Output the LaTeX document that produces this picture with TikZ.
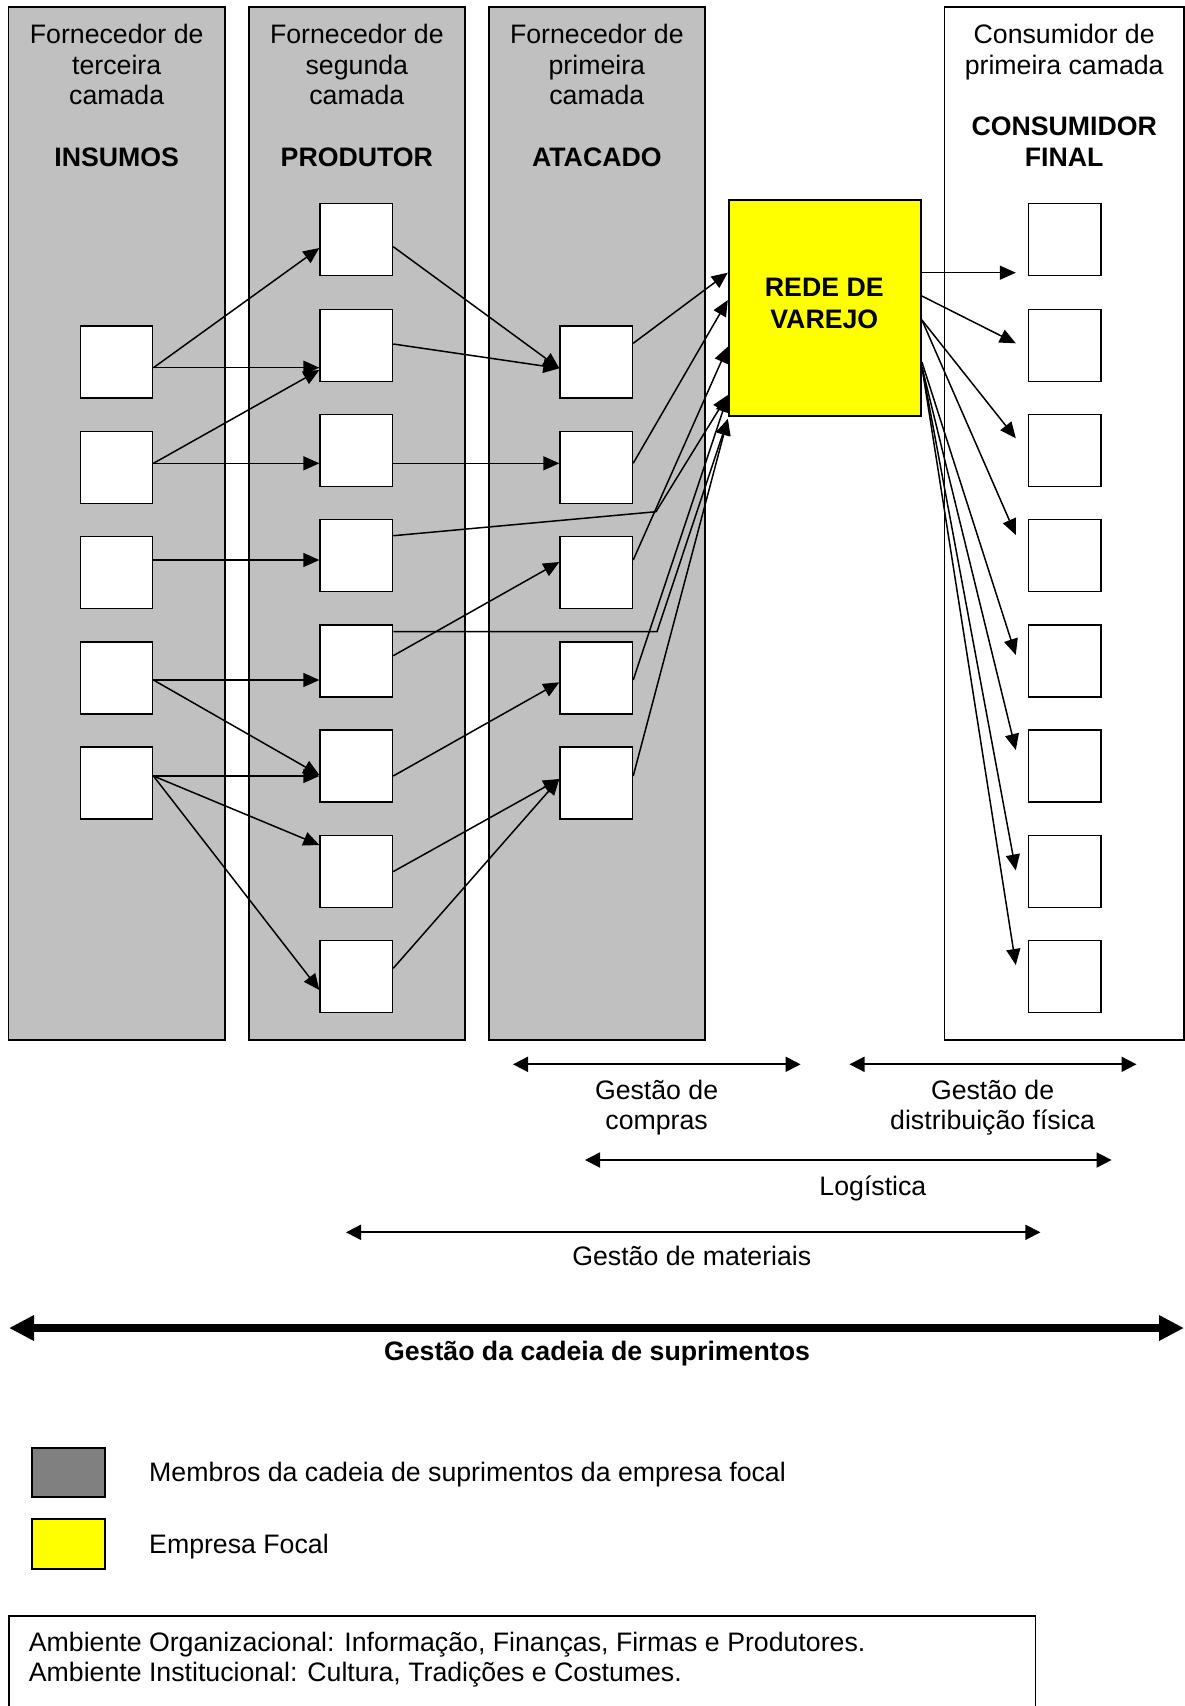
\documentclass[tikz,border=0pt]{standalone}
\usepackage{fontspec}
\setmainfont{Liberation Sans}
\usetikzlibrary{arrows.meta,calc}
\definecolor{colgray}{HTML}{C0C0C0}
\definecolor{leggray}{HTML}{808080}
\definecolor{focal}{HTML}{FFFF00}
\begin{document}
\begin{tikzpicture}[x=1pt,y=-1pt,
  font=\fontsize{26.7}{31}\selectfont,
  bfont/.style={font=\fontsize{26.7}{31}\selectfont\bfseries},
  col/.style={draw, line width=1.8pt, fill=colgray, inner sep=0},
  bx/.style={draw, line width=1.4pt, fill=white, minimum width=72.5pt, minimum height=72pt, inner sep=0},
  txt/.style={inner sep=0, anchor=base},
  txtl/.style={inner sep=0, anchor=base west},
  con/.style={line width=1.5pt, -{Triangle[length=16pt,width=14pt]}},
  dbl/.style={line width=1.8pt, {Triangle[length=15pt,width=15pt]}-{Triangle[length=15pt,width=15pt]}},
  big/.style={line width=8pt, {Triangle[length=25pt,width=24pt]}-{Triangle[length=25pt,width=24pt]}}]
\useasboundingbox (0,0) rectangle (1185,1706);

% columns
\node[col, minimum width=216.6pt, minimum height=1032.7pt] (col1) at (116.7,523.65) {};
\node[col, minimum width=216.3pt, minimum height=1032.7pt] (col2) at (356.85,523.65) {};
\node[col, minimum width=216.3pt, minimum height=1032.7pt] (col3) at (596.85,523.65) {};
\node[col, fill=white, minimum width=239.6pt, minimum height=1032.7pt] (col4) at (1064.2,523.65) {};

% headers
\node[txt] (h1a) at (116.7,43.3) {Fornecedor de};
\node[txt] (h1b) at (116.7,74) {terceira};
\node[txt] (h1c) at (116.7,104.8) {camada};
\node[txt,bfont] (h1d) at (116.7,166) {INSUMOS};
\node[txt] (h2a) at (356.85,43.3) {Fornecedor de};
\node[txt] (h2b) at (356.85,74) {segunda};
\node[txt] (h2c) at (356.85,104.8) {camada};
\node[txt,bfont] (h2d) at (356.85,166) {PRODUTOR};
\node[txt] (h3a) at (596.85,43.3) {Fornecedor de};
\node[txt] (h3b) at (596.85,74) {primeira};
\node[txt] (h3c) at (596.85,104.8) {camada};
\node[txt,bfont] (h3d) at (596.85,166) {ATACADO};
\node[txt] (h4a) at (1064.2,43.3) {Consumidor de};
\node[txt] (h4b) at (1064.2,74) {primeira camada};
\node[txt,bfont] (h4c) at (1064.2,135.5) {CONSUMIDOR};
\node[txt,bfont] (h4d) at (1064.2,166) {FINAL};

% focal company
\node[draw, line width=1.8pt, fill=focal, minimum width=192.3pt, minimum height=215.7pt, inner sep=0] (rede) at (824.85,307.85) {};
\node[txt,bfont] (r1) at (824.3,296.7) {REDE DE};
\node[txt,bfont] (r2) at (824.3,328.3) {VAREJO};

% boxes
\foreach \i/\y in {1/362,2/467.3,3/572.5,4/677.8,5/783}{
  \node[bx] (a\i) at (116.5,\y) {};
  \node[bx] (c\i) at (596.25,\y) {};
}
\foreach \i/\y in {1/239.3,2/345.3,3/450.3,4/555.7,5/661,6/766,7/871.5,8/976.7}{
  \node[bx] (b\i) at (356.3,\y) {};
  \node[bx] (d\i) at (1064.75,\y) {};
}

% bends
\coordinate (k4) at (656,511.7);
\coordinate (k5) at (657,631.7);

% tier 3 -> tier 2
\draw[con] (a1.east |- 0,367.7) -- (b1.west |- 0,248);
\draw[con] (a1.east |- 0,367.7) -- (b2.west |- 0,367.7);
\draw[con] (a2.east |- 0,463.3) -- (b2.west |- 0,370);
\draw[con] (a2.east |- 0,463.3) -- (b3.west |- 0,463.3);
\draw[con] (a3.east |- 0,560) -- (b4.west |- 0,560);
\draw[con] (a4.east |- 0,680) -- (b5.west |- 0,680);
\draw[con] (a4.east |- 0,680) -- (b6.west |- 0,775);
\draw[con] (a5.east |- 0,776) -- (b6.west |- 0,776);
\draw[con] (a5.east |- 0,776) -- (b7.west |- 0,845);
\draw[con] (a5.east |- 0,776) -- (b8.west |- 0,990);

% tier 2 -> tier 1 / rede
\draw[con] (b1.east |- 0,246.7) -- (c1.west |- 0,368.3);
\draw[con] (b2.east |- 0,344) -- (c1.west |- 0,368.3);
\draw[con] (b3.east |- 0,463.3) -- (c2.west |- 0,463.3);
\draw[con] (b4.east |- 0,535.7) -- (k4) -- (rede.west |- 0,395);
\draw[con] (b5.east |- 0,631.7) -- (k5) -- (rede.west |- 0,419);
\draw[con] (b5.east |- 0,655.7) -- (c3.west |- 0,562);
\draw[con] (b6.east |- 0,776) -- (c4.west |- 0,682.3);
\draw[con] (b7.east |- 0,871.6) -- (c5.west |- 0,779);
\draw[con] (b8.east |- 0,968.3) -- (c5.west |- 0,779);

% tier 1 -> rede
\draw[con] (c1.east |- 0,343.3) -- (rede.west |- 0,272.7);
\draw[con] (c2.east |- 0,463.3) -- (rede.west |- 0,300);
\draw[con] (c3.east |- 0,560) -- (rede.west |- 0,346.7);
\draw[con] (c4.east |- 0,680) -- (rede.west |- 0,396);
\draw[con] (c5.east |- 0,776) -- (rede.west |- 0,419);

% rede -> consumers
\draw[con] (rede.east |- 0,272.7) -- ($(d1.west |- 0,272.7)+(-12,0)$);
\draw[con] (rede.east |- 0,296) -- ($(d2.west |- 0,343.3)+(-12,0)$);
\draw[con] (rede.east |- 0,320) -- ($(d3.west |- 0,438.3)+(-12,0)$);
\draw[con] (rede.east |- 0,320) -- ($(d4.west |- 0,535)+(-12,0)$);
\draw[con] (rede.east |- 0,362) -- ($(d5.west |- 0,655)+(-12,0)$);
\draw[con] (rede.east |- 0,366.7) -- ($(d6.west |- 0,750)+(-12,0)$);
\draw[con] (rede.east |- 0,366.7) -- ($(d7.west |- 0,870.5)+(-12,0)$);
\draw[con] (rede.east |- 0,366.7) -- ($(d8.west |- 0,965)+(-12,0)$);

% management spans
\coordinate (gc1) at (513,1064.3);
\coordinate (gc2) at (800.6,1064.3);
\coordinate (gd1) at (849.5,1064.3);
\coordinate (gd2) at (1136.5,1064.3);
\coordinate (lg1) at (585,1160);
\coordinate (lg2) at (1111.6,1160);
\coordinate (gm1) at (346,1232.3);
\coordinate (gm2) at (1040.4,1232.3);
\coordinate (sc1) at (9,1328);
\coordinate (sc2) at (1184,1328);
\draw[dbl] (gc1) -- (gc2);
\draw[dbl] (gd1) -- (gd2);
\draw[dbl] (lg1) -- (lg2);
\draw[dbl] (gm1) -- (gm2);
\draw[big] (sc1) -- (sc2);

\node[txt] (t1) at (656.6,1099) {Gestão de};
\node[txt] (t2) at (656.6,1129) {compras};
\node[txt] (t3) at (992.6,1099) {Gestão de};
\node[txt] (t4) at (992.6,1129) {distribuição física};
\node[txt] (t5) at (872.9,1195) {Logística};
\node[txt] (t6) at (691.8,1265.7) {Gestão de materiais};
\node[txt,bfont] (t7) at (597,1360) {Gestão da cadeia de suprimentos};

% legend
\node[draw, line width=1.8pt, fill=leggray, minimum width=73.3pt, minimum height=49.3pt, inner sep=0] (leg1) at (68.4,1472.3) {};
\node[draw, line width=1.8pt, fill=focal, minimum width=73.3pt, minimum height=49.7pt, inner sep=0] (leg2) at (68.4,1544.2) {};
\node[txtl] (l1) at (149,1481.7) {Membros da cadeia de suprimentos da empresa focal};
\node[txtl] (l2) at (149,1553.3) {Empresa Focal};

% environment box
\draw[line width=1.4pt] (9,1720) |- (1035.5,1616) -- (1035.5,1720);
\node[txtl] (e1) at (28.7,1651.7) {Ambiente Organizacional: Informação, Finanças, Firmas e Produtores.};
\node[txtl] (e2) at (28.7,1681.7) {Ambiente Institucional: Cultura, Tradições e Costumes.};
\end{tikzpicture}
\end{document}
